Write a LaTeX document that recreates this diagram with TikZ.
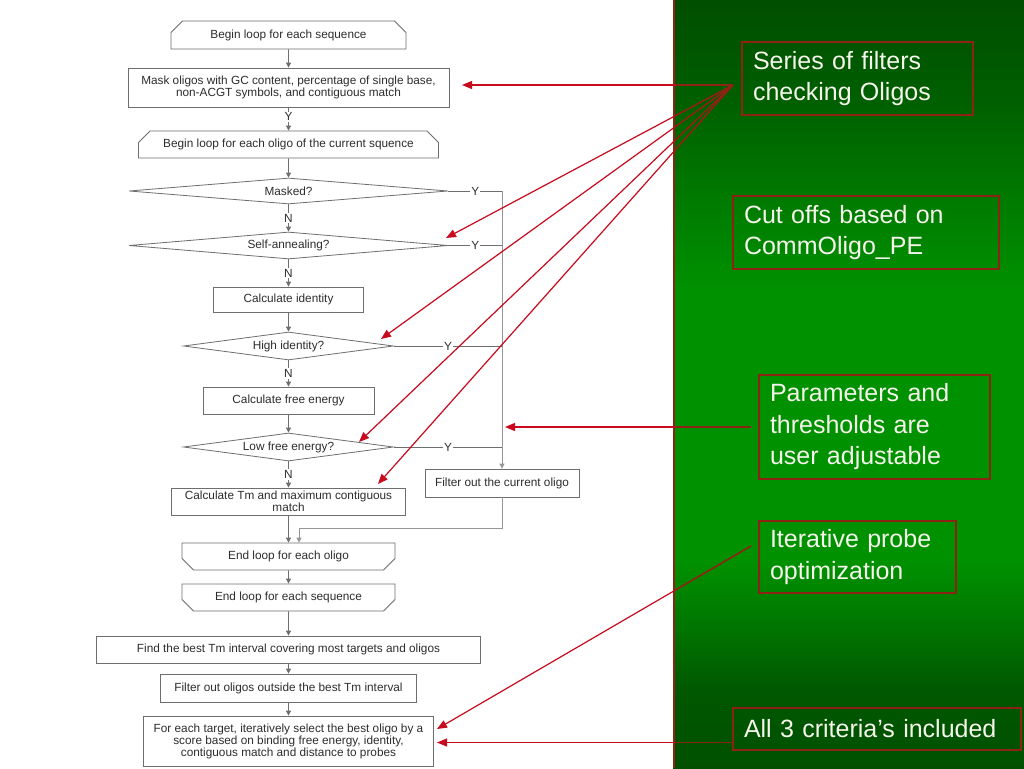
\documentclass[tikz,border=0pt]{standalone}
\usepackage{fontspec}
\setmainfont{Liberation Sans}
\usetikzlibrary{shapes.geometric,shapes.misc,arrows.meta}
\definecolor{fcline}{RGB}{110,110,110}
\definecolor{fcrail}{RGB}{150,150,150}
\definecolor{fctext}{RGB}{45,45,45}
\definecolor{annred}{RGB}{200,10,30}
\definecolor{dkred}{RGB}{140,35,20}
\definecolor{anntext}{RGB}{245,245,235}
\definecolor{ga}{RGB}{0,78,0}
\definecolor{gb}{RGB}{0,95,0}
\definecolor{gc}{RGB}{0,122,0}
\definecolor{gd}{RGB}{0,145,0}
\definecolor{ge}{RGB}{0,145,0}
\definecolor{gf}{RGB}{0,120,0}
\definecolor{gg}{RGB}{0,88,0}
\definecolor{gh}{RGB}{0,80,0}
\pgfdeclareverticalshading{panelshade}{100bp}{color(0bp)=(gh); color(25bp)=(gh); color(30.1bp)=(gg); color(34.6bp)=(gf); color(38.5bp)=(ge); color(56.1bp)=(gd); color(62bp)=(gc); color(68.5bp)=(gb); color(75bp)=(ga); color(100bp)=(ga)}
\newcommand\fcfont{\fontsize{11.8}{12}\selectfont}
\newcommand\annfont{\fontsize{25}{31.5}\selectfont}
\begin{document}
\begin{tikzpicture}[x=1pt,y=-1pt,
  fcbox/.style={draw=fcline, line width=0.8pt, text=fctext, font=\fcfont, inner sep=0pt, align=center},
  procbox/.style={fcbox, rectangle},
  loopbeg/.style={fcbox, chamfered rectangle, chamfered rectangle corners={north west,north east}, chamfered rectangle xsep=7pt, chamfered rectangle ysep=6pt},
  loopend/.style={fcbox, chamfered rectangle, chamfered rectangle corners={south west,south east}, chamfered rectangle xsep=7pt, chamfered rectangle ysep=6pt},
  decis/.style={fcbox, diamond, aspect=8},
  fcarr/.style={draw=fcline, line width=0.8pt, -{Triangle[length=5pt,width=5pt]}},
  fcln/.style={draw=fcline, line width=0.8pt},
  lbl/.style={fill=white, inner sep=1pt, text=fctext, font=\fcfont},
  annbox/.style={draw=dkred, line width=1.2pt, text=anntext, font=\annfont, align=left, inner xsep=11pt, inner ysep=0pt},
  annarr/.style={draw=annred, line width=1.2pt, -{Triangle[length=10pt,width=8pt]}},
  annln/.style={draw=dkred, line width=1.2pt}
]
\useasboundingbox (0,0) rectangle (1024,768);
\fill[white] (0,0) rectangle (1024,768);

% green panel
\shade[shading=panelshade] (673,0) rectangle (1024,768);
\draw[annln, line width=1.5pt] (674,0) -- (674,768);

% flowchart nodes
\node[loopbeg, minimum width=235, minimum height=28] (bls) at (288.5,35) {Begin loop for each sequence};
\node[procbox, minimum width=321, minimum height=39] (mask) at (288.5,87.5) {Mask oligos with GC content, percentage of single base,\\non-ACGT symbols, and contiguous match};
\node[loopbeg, minimum width=300, minimum height=27] (blo) at (288.5,144.5) {Begin loop for each oligo of the current squence};
\node[decis, minimum width=319, minimum height=26] (masked) at (288.5,191) {Masked?};
\node[decis, minimum width=319, minimum height=27] (self) at (288.5,245.5) {Self-annealing?};
\node[procbox, minimum width=150, minimum height=25] (cid) at (288.5,299.5) {Calculate identity};
\node[decis, minimum width=210, minimum height=28] (hid) at (288.5,346) {High identity?};
\node[procbox, minimum width=171, minimum height=27] (cfe) at (288.5,400.5) {Calculate free energy};
\node[decis, minimum width=210, minimum height=28] (lfe) at (288.5,447) {Low free energy?};
\node[procbox, minimum width=234, minimum height=27] (ctm) at (288.5,501.5) {Calculate Tm and maximum contiguous\\match};
\node[procbox, minimum width=154, minimum height=28] (filt) at (502,483) {Filter out the current oligo};
\node[loopend, minimum width=213, minimum height=27] (eo) at (288.5,556.5) {End loop for each oligo};
\node[loopend, minimum width=213, minimum height=27] (es) at (288.5,597.5) {End loop for each sequence};
\node[procbox, minimum width=384, minimum height=27] (find) at (288.5,649.5) {Find the best Tm interval covering most targets and oligos};
\node[procbox, minimum width=256, minimum height=28] (fout) at (288.5,688) {Filter out oligos outside the best Tm interval};
\node[procbox, minimum width=290, minimum height=50] (fet) at (288.5,741) {For each target, iteratively select the best oligo by a\\score based on binding free energy, identity,\\contiguous match and distance to probes};

% flowchart connectors
\draw[fcarr] (bls) -- (mask);
\draw[fcarr] (mask) -- node[lbl, pos=0.4]{Y} (blo);
\draw[fcarr] (blo) -- (masked);
\draw[fcarr] (masked) -- node[lbl]{N} (self);
\draw[fcarr] (self) -- node[lbl]{N} (cid);
\draw[fcarr] (cid) -- (hid);
\draw[fcarr] (hid) -- node[lbl]{N} (cfe);
\draw[fcarr] (cfe) -- (lfe);
\draw[fcarr] (lfe) -- node[lbl]{N} (ctm);
\draw[fcarr] (ctm) -- (eo);
\draw[fcarr] (eo) -- (es);
\draw[fcarr] (es) -- (find);
\draw[fcarr] (find) -- (fout);
\draw[fcarr] (fout) -- (fet);

\coordinate (rtop) at (masked.east -| filt.north);
\draw[fcln] (masked.east) -- node[lbl]{Y} (rtop);
\draw[fcln] (self.east) -- node[lbl]{Y} (self.east -| filt.north);
\draw[fcln] (hid.east) -- node[lbl]{Y} (hid.east -| filt.north);
\draw[fcln] (lfe.east) -- node[lbl]{Y} (lfe.east -| filt.north);
\draw[fcarr, draw=fcrail] (rtop) -- (filt.north);
\coordinate (jn) at (299,528);
\draw[fcarr, draw=fcrail] (filt.south) |- (jn) -- (jn |- eo.north);

% annotation boxes
\node[annbox, minimum width=231, text width=209, minimum height=73] (ba) at (857.5,78.5) {Series of filters\\checking Oligos};
\node[annbox, minimum width=266, text width=244, minimum height=73] (bb) at (866,232.5) {Cut offs based on\\CommOligo\_PE};
\node[annbox, minimum width=231, text width=209, minimum height=104] (bc) at (874.5,427) {Parameters and\\thresholds are\\user adjustable};
\node[annbox, minimum width=197, text width=175, minimum height=72] (bd) at (857.5,557) {Iterative probe\\optimization};
\node[annbox, minimum width=288, text width=266, minimum height=42] (be) at (877,729) {All 3 criteria’s included};

% annotation arrows
\coordinate (hub) at (733,85);
\coordinate (t1) at (462,85);
\coordinate (t2) at (446,238);
\coordinate (t3) at (381,339);
\coordinate (t4) at (359,442);
\coordinate (t5) at (378,484);
\coordinate (sC) at (751,427);
\coordinate (t6) at (505,427);
\coordinate (sD) at (751,546);
\coordinate (t7) at (437,729);
\coordinate (sE) at (733,742.5);
\coordinate (t8) at (437,742.5);
\draw[annarr] (hub) -- (t1);
\draw[annarr] (hub) -- (t2);
\draw[annarr] (hub) -- (t3);
\draw[annarr] (hub) -- (t4);
\draw[annarr] (hub) -- (t5);
\draw[annarr] (sC) -- (t6);
\draw[annarr] (sD) -- (t7);
\draw[annarr] (sE) -- (t8);
\begin{scope}
\clip (675,0) rectangle (1024,768);
\draw[annln] (hub) -- (t1);
\draw[annln] (hub) -- (t2);
\draw[annln] (hub) -- (t3);
\draw[annln] (hub) -- (t4);
\draw[annln] (hub) -- (t5);
\draw[annln] (sC) -- (t6);
\draw[annln] (sD) -- (t7);
\draw[annln] (sE) -- (t8);
\end{scope}
\end{tikzpicture}
\end{document}
